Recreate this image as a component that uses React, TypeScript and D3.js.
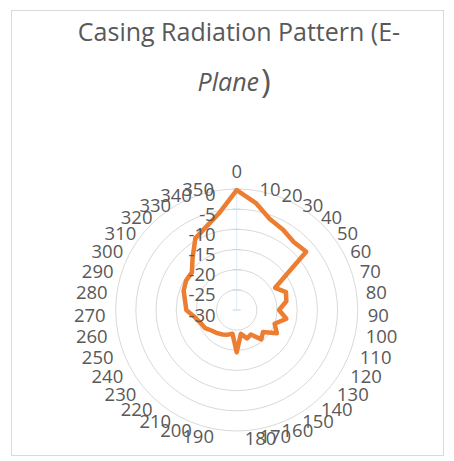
import React from "react";
import * as d3 from "d3";

const categories = [
  "0", "10", "20", "30", "40", "50", "60", "70", "80", "90", "100", "110",
  "120", "130", "140", "150", "160", "170", "180", "190", "200", "210", "220", "230",
  "240", "250", "260", "270", "280", "290", "300", "310", "320", "330", "340", "350",
];
const gainDb = [
  -0.3, -3, -6, -7, -8, -7.5, -19, -17, -17.5, -19.5, -17.5, -20,
  -18.5, -21.5, -20.5, -23, -22.5, -24, -19.5, -24, -23.5, -23, -22.5, -22,
  -21, -20.5, -19.5, -17.5, -17, -16, -15.5, -15.5, -13, -9.5, -8, -5.5,
];
const radialTicks = [0, -5, -10, -15, -20, -25, -30];
const titleLine1 = "Casing Radiation Pattern (E-";
const titleLine2 = "Plane";
const titleLine2End = ")";

export default function App() {
  const W = 454, H = 461;
  const cx = 236.7, cy = 310, R = 121, LR = 131;
  const n = categories.length;
  const r = d3.scaleLinear().domain([-30, 0]).range([0, R]);
  const a = d3.scaleLinear().domain([0, n]).range([0, 2 * Math.PI]);
  const line = d3
    .lineRadial<number>()
    .angle((_, i) => a(i))
    .radius((d) => r(d))
    .curve(d3.curveLinearClosed);
  const gridVals = radialTicks.filter((v) => v > -30);
  const font = "'Open Sans', 'Liberation Sans', sans-serif";
  const txt = "#595959";
  const fs = 18.5;

  return (
    <svg
      width={W}
      height={H}
      style={{ position: "absolute", left: 0, top: 0, background: "#fff" }}
    >
      <rect x={11.5} y={10.5} width={432} height={445} fill="#fff" stroke="#D9D9D9" />
      <text x={239} y={41} textAnchor="middle" fontFamily={font} fontSize={25} fill={txt}>
        {titleLine1}
      </text>
      <text x={259} y={91} textAnchor="end" fontFamily={font} fontSize={25} fill={txt} fontStyle="italic">
        {titleLine2}
      </text>
      <text x={261} y={93} fontFamily={font} fontSize={33} fill={txt}>
        {titleLine2End}
      </text>
      <g transform={`translate(${cx},${cy})`}>
        {gridVals.map((v) => (
          <circle key={v} r={r(v)} fill="none" stroke="#D9D9D9" strokeWidth={1} />
        ))}
        <line x1={0} y1={0} x2={0} y2={-R} stroke="#DDEBF7" strokeWidth={1} />
        {radialTicks.map((v) => (
          <line key={"t" + v} x1={-4} x2={4} y1={-r(v)} y2={-r(v)} stroke="#BDD7EE" strokeWidth={1} />
        ))}
        <path
          d={line(gainDb) || ""}
          fill="none"
          stroke="#ED7D31"
          strokeWidth={4.5}
          strokeLinejoin="round"
        />
        {radialTicks.map((v) => (
          <text
            key={"l" + v}
            x={-21}
            y={-r(v) + 4}
            textAnchor="end"
            dominantBaseline="central"
            fontFamily={font}
            fontSize={fs}
            fill={txt}
          >
            {v}
          </text>
        ))}
        {categories.map((c, i) => {
          const t = a(i);
          const s = Math.sin(t), co = Math.cos(t);
          let px = LR * s;
          const py = -LR * co;
          const anchor = s > 1e-6 ? "start" : s < -1e-6 ? "end" : i === 0 ? "middle" : "start";
          let dy;
          if (i === 0) dy = -9;
          else if (co >= 0) dy = 4 + 4 * co;
          else dy = 4 - 8 * Math.abs(co);
          if (i === 18) px += 8;
          return (
            <text
              key={c}
              x={px}
              y={py + dy}
              textAnchor={anchor}
              dominantBaseline="central"
              fontFamily={font}
              fontSize={fs}
              fill={txt}
            >
              {c}
            </text>
          );
        })}
      </g>
    </svg>
  );
}
